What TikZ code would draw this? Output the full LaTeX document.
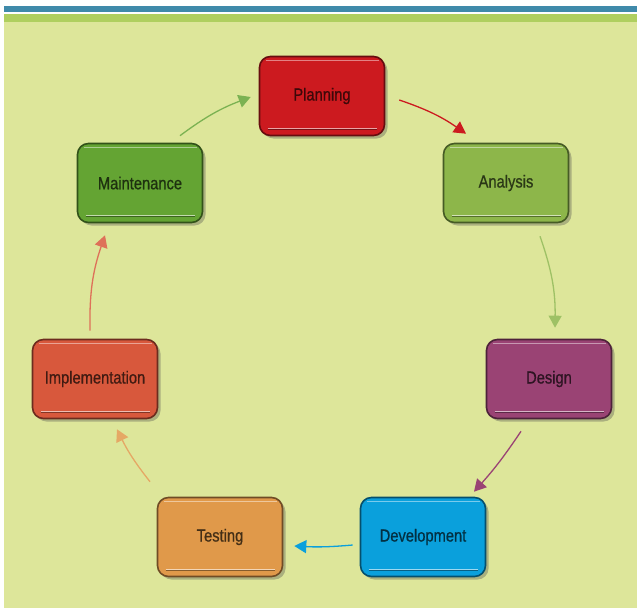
\documentclass[tikz,border=0pt]{standalone}
\usepackage{fontspec}
\setmainfont{Liberation Sans}[FakeStretch=0.84,FakeBold=0.7]
\usetikzlibrary{shadows,arrows.meta,calc}
\definecolor{bgg}{HTML}{DDE69A}
\definecolor{bandg}{HTML}{AFCF5F}
\definecolor{topblue}{HTML}{3F8AAA}
\definecolor{cplan}{HTML}{CC1A1F}
\definecolor{cana}{HTML}{8DB64A}
\definecolor{cmaint}{HTML}{64A433}
\definecolor{cimpl}{HTML}{D8583C}
\definecolor{cdes}{HTML}{9A4374}
\definecolor{ctest}{HTML}{E0994A}
\definecolor{cdev}{HTML}{0AA0DC}
\tikzset{
  phase/.style={rounded corners=11pt, minimum width=125pt, minimum height=79pt,
    line width=1.6pt, draw=#1!50!black, fill=#1, text=#1!30!black,
    font=\fontsize{17.5}{20}\selectfont,
    drop shadow={shadow xshift=3pt, shadow yshift=-3pt, opacity=0.35, fill=black!70},
    path picture={
      \draw[#1!55!white, line width=1pt]
        ([xshift=6pt,yshift=-4pt]path picture bounding box.north west) -- ([xshift=-6pt,yshift=-4pt]path picture bounding box.north east);
      \draw[#1!60!black, line width=1pt]
        ([xshift=8pt,yshift=6pt]path picture bounding box.south west) -- ([xshift=-8pt,yshift=6pt]path picture bounding box.south east);
      \draw[#1!40!white, line width=0.7pt]
        ([xshift=8pt,yshift=7.2pt]path picture bounding box.south west) -- ([xshift=-8pt,yshift=7.2pt]path picture bounding box.south east);
    }},
  flow/.style={line width=1.3pt, draw=#1, -{Triangle[length=12pt,width=13pt,fill=#1]}}
}
\begin{document}
\begin{tikzpicture}[x=1pt,y=-1pt]
\useasboundingbox (0,0) rectangle (637,608);
\fill[white] (0,0) rectangle (637,608);
\fill[topblue] (4,6) rectangle (637,12);
\fill[bandg] (4,14) rectangle (637,21.5);
\fill[bgg] (4,21.5) rectangle (637,608);

\node[phase=cplan]  (P) at (322,96)  {Planning};
\node[phase=cana]   (A) at (506,183) {Analysis};
\node[phase=cmaint] (M) at (140,183) {Maintenance};
\node[phase=cimpl]  (I) at (95,379)  {Implementation};
\node[phase=cdes]   (D) at (549,379) {Design};
\node[phase=ctest]  (T) at (220,537) {Testing};
\node[phase=cdev]   (V) at (423,537) {Development};

\draw[flow=cplan]  ($(P.east)+(14,4)$) to[bend left=8] ($(A.north)+(-40,-9)$);
\draw[flow=cana!85!white]   ($(A.south)+(34,13)$) to[bend left=10] ($(D.north)+(6,-11)$);
\draw[flow=cdes]   ($(D.south)+(-28,12)$) to[bend left=4] ($(V.north)+(51,-5)$);
\draw[flow=cdev]   ($(V.west)+(-7,8)$) to[bend left=4] ($(T.east)+(11,9)$);
\draw[flow=ctest!85!white]  ($(T.north)+(-70,-15)$) to[bend left=6] ($(I.south)+(22,10)$);
\draw[flow=cimpl!85!white]  ($(I.north)+(-5,-8)$) to[bend left=10] ($(M.south)+(-35,12)$);
\draw[flow=cmaint!85!white] ($(M.north)+(40,-7)$) to[bend left=8] ($(P.west)+(-8,1)$);
\end{tikzpicture}
\end{document}
